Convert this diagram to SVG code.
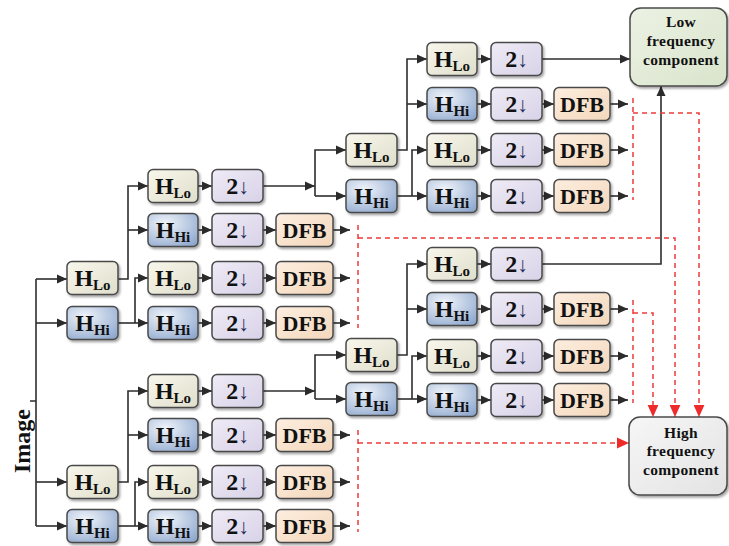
<svg xmlns="http://www.w3.org/2000/svg" width="729" height="546" viewBox="0 0 729 546">
<defs>
<style>
.b{stroke:#4a4a4a;stroke-width:1.5;filter:url(#sh)}
.lo{fill:url(#gLo)}.hi{fill:url(#gHi)}.dn{fill:url(#gDn)}.df{fill:url(#gDf)}
.lf{fill:url(#gLf)}.hf{fill:url(#gHf)}
.t{font-family:'Liberation Serif','DejaVu Serif',serif;font-weight:bold;font-size:24px;fill:#111;text-anchor:middle}
.s{font-size:15px}
.ar{font-size:21px;fill:#1d2d5a}
.dfb{font-size:22px}
.big{font-size:15.5px;letter-spacing:0.3px}
.c{fill:none;stroke:#2e2e2e;stroke-width:1.6}
.d{fill:none;stroke:#ee3b3b;stroke-width:1.5;stroke-dasharray:5 4}
</style>
<filter id="sh" x="-10%" y="-10%" width="130%" height="140%"><feDropShadow dx="1.5" dy="2" stdDeviation="1" flood-color="#000" flood-opacity="0.35"/></filter>
<linearGradient id="gLo" x1="0" y1="0" x2="1" y2="1"><stop offset="0" stop-color="#f8f7ec"/><stop offset="1" stop-color="#e0decb"/></linearGradient>
<radialGradient id="gHi" cx="0.35" cy="0.3" r="0.9"><stop offset="0" stop-color="#f0f4fa"/><stop offset="1" stop-color="#88a3cb"/></radialGradient>
<linearGradient id="gDn" x1="0" y1="0" x2="1" y2="1"><stop offset="0" stop-color="#efebf6"/><stop offset="1" stop-color="#d8d2e7"/></linearGradient>
<linearGradient id="gDf" x1="0" y1="0" x2="1" y2="1"><stop offset="0" stop-color="#fdeee0"/><stop offset="1" stop-color="#f3d7bb"/></linearGradient>
<linearGradient id="gLf" x1="0" y1="0" x2="1" y2="1"><stop offset="0" stop-color="#ecf2e4"/><stop offset="1" stop-color="#d9e4cb"/></linearGradient>
<linearGradient id="gHf" x1="0" y1="0" x2="1" y2="1"><stop offset="0" stop-color="#f6f6f6"/><stop offset="1" stop-color="#e3e3e3"/></linearGradient>
<marker id="ah" viewBox="0 0 10 10" refX="10" refY="5" markerWidth="10" markerHeight="10" markerUnits="userSpaceOnUse" orient="auto"><path d="M0,0.5 L10,5 L0,9.5 z" fill="#2b2b2b"/></marker>
<marker id="ahr" viewBox="0 0 10 10" refX="10" refY="5" markerWidth="12" markerHeight="12" markerUnits="userSpaceOnUse" orient="auto"><path d="M0,0.5 L10,5 L0,9.5 z" fill="#ee2a2a"/></marker>
</defs>
<rect width="729" height="546" fill="#fff"/>

<g id="connectors">
<path class="c" d="M36,279 V526 M30,401 H36"/>
<path class="c" marker-end="url(#ah)" d="M36,279 H67"/>
<path class="c" marker-end="url(#ah)" d="M36,323 H67"/>
<path class="c" marker-end="url(#ah)" d="M36,482 H67"/>
<path class="c" marker-end="url(#ah)" d="M36,526 H67"/>
<path class="c" marker-end="url(#ah)" d="M118,279 H128 V186 H148"/>
<path class="c" marker-end="url(#ah)" d="M128,230 H148"/>
<path class="c" marker-end="url(#ah)" d="M118,323 H148"/>
<path class="c" marker-end="url(#ah)" d="M135,323 V278 H148"/>
<path class="c" marker-end="url(#ah)" d="M118,482 H128 V391 H148"/>
<path class="c" marker-end="url(#ah)" d="M128,435 H148"/>
<path class="c" marker-end="url(#ah)" d="M118,526 H148"/>
<path class="c" marker-end="url(#ah)" d="M135,526 V482 H148"/>
<path class="c" marker-end="url(#ah)" d="M198,186 H212"/>
<path class="c" marker-end="url(#ah)" d="M198,230 H212"/>
<path class="c" marker-end="url(#ah)" d="M198,278 H212"/>
<path class="c" marker-end="url(#ah)" d="M198,323 H212"/>
<path class="c" marker-end="url(#ah)" d="M198,391 H212"/>
<path class="c" marker-end="url(#ah)" d="M198,435 H212"/>
<path class="c" marker-end="url(#ah)" d="M198,482 H212"/>
<path class="c" marker-end="url(#ah)" d="M198,526 H212"/>
<path class="c" marker-end="url(#ah)" d="M263,230 H276"/>
<path class="c" marker-end="url(#ah)" d="M263,278 H276"/>
<path class="c" marker-end="url(#ah)" d="M263,323 H276"/>
<path class="c" marker-end="url(#ah)" d="M263,435 H276"/>
<path class="c" marker-end="url(#ah)" d="M263,482 H276"/>
<path class="c" marker-end="url(#ah)" d="M263,526 H276"/>
<path class="c" marker-end="url(#ah)" d="M333,230 H350"/>
<path class="c" marker-end="url(#ah)" d="M333,278 H350"/>
<path class="c" marker-end="url(#ah)" d="M333,323 H350"/>
<path class="c" marker-end="url(#ah)" d="M333,435 H350"/>
<path class="c" marker-end="url(#ah)" d="M333,482 H350"/>
<path class="c" marker-end="url(#ah)" d="M333,526 H350"/>
<path class="c" marker-end="url(#ah)" d="M263,186 H315"/>
<path class="c" marker-end="url(#ah)" d="M315,196 V150 H346"/>
<path class="c" marker-end="url(#ah)" d="M315,196 H346"/>
<path class="c" marker-end="url(#ah)" d="M263,391 H315"/>
<path class="c" marker-end="url(#ah)" d="M315,399 V355 H346"/>
<path class="c" marker-end="url(#ah)" d="M315,399 H346"/>
<path class="c" marker-end="url(#ah)" d="M397,150 H407 V59 H427"/>
<path class="c" marker-end="url(#ah)" d="M407,104 H427"/>
<path class="c" marker-end="url(#ah)" d="M397,196 H427"/>
<path class="c" marker-end="url(#ah)" d="M412,196 V150 H427"/>
<path class="c" marker-end="url(#ah)" d="M397,355 H407 V264 H427"/>
<path class="c" marker-end="url(#ah)" d="M407,309 H427"/>
<path class="c" marker-end="url(#ah)" d="M397,399 H427"/>
<path class="c" marker-end="url(#ah)" d="M412,399 V356 H427"/>
<path class="c" marker-end="url(#ah)" d="M477,59 H491"/>
<path class="c" marker-end="url(#ah)" d="M477,104 H491"/>
<path class="c" marker-end="url(#ah)" d="M477,150 H491"/>
<path class="c" marker-end="url(#ah)" d="M477,196 H491"/>
<path class="c" marker-end="url(#ah)" d="M477,264 H491"/>
<path class="c" marker-end="url(#ah)" d="M477,309 H491"/>
<path class="c" marker-end="url(#ah)" d="M477,356 H491"/>
<path class="c" marker-end="url(#ah)" d="M477,400 H491"/>
<path class="c" marker-end="url(#ah)" d="M542,104 H554"/>
<path class="c" marker-end="url(#ah)" d="M542,150 H554"/>
<path class="c" marker-end="url(#ah)" d="M542,196 H554"/>
<path class="c" marker-end="url(#ah)" d="M542,309 H554"/>
<path class="c" marker-end="url(#ah)" d="M542,356 H554"/>
<path class="c" marker-end="url(#ah)" d="M542,400 H554"/>
<path class="c" marker-end="url(#ah)" d="M610,104 H628"/>
<path class="c" marker-end="url(#ah)" d="M610,150 H628"/>
<path class="c" marker-end="url(#ah)" d="M610,196 H628"/>
<path class="c" marker-end="url(#ah)" d="M610,309 H628"/>
<path class="c" marker-end="url(#ah)" d="M610,356 H628"/>
<path class="c" marker-end="url(#ah)" d="M610,400 H628"/>
<path class="c" marker-end="url(#ah)" d="M542,59 H630"/>
<path class="c" marker-end="url(#ah)" d="M542,264 H661 V86"/>
<path class="d" d="M633,98 V200"/>
<path class="d" marker-end="url(#ahr)" d="M633,113 H699 V417"/>
<path class="d" d="M358,225 V328"/>
<path class="d" marker-end="url(#ahr)" d="M358,238 H675 V417"/>
<path class="d" d="M633,300 V403"/>
<path class="d" marker-end="url(#ahr)" d="M633,313 H653 V417"/>
<path class="d" d="M358,430 V532"/>
<path class="d" marker-end="url(#ahr)" d="M358,443 H629"/>
</g>

<text class="t" x="30" y="441" font-size="22" transform="rotate(-90 30 441)">Image</text>

<g id="a_lo1"><rect class="b lo" x="67" y="261.5" width="51" height="33" rx="5"/><text class="t" x="92.5" y="285.5">H<tspan class="s" dy="4">Lo</tspan></text></g>
<g id="a_hi1"><rect class="b hi" x="67" y="306.5" width="51" height="33" rx="5"/><text class="t" x="92.5" y="330.5">H<tspan class="s" dy="4">Hi</tspan></text></g>
<g id="a_lo2"><rect class="b lo" x="67" y="465.5" width="51" height="33" rx="5"/><text class="t" x="92.5" y="489.5">H<tspan class="s" dy="4">Lo</tspan></text></g>
<g id="a_hi2"><rect class="b hi" x="67" y="509.5" width="51" height="33" rx="5"/><text class="t" x="92.5" y="533.5">H<tspan class="s" dy="4">Hi</tspan></text></g>

<g id="b1_h"><rect class="b lo" x="148" y="169.5" width="50" height="33" rx="5"/><text class="t" x="173" y="193.5">H<tspan class="s" dy="4">Lo</tspan></text></g>
<g id="b1_d"><rect class="b dn" x="212" y="169.5" width="51" height="33" rx="5"/><text class="t" x="237.5" y="194">2<tspan class="ar">↓</tspan></text></g>
<g id="b2_h"><rect class="b hi" x="148" y="213.5" width="50" height="33" rx="5"/><text class="t" x="173" y="237.5">H<tspan class="s" dy="4">Hi</tspan></text></g>
<g id="b2_d"><rect class="b dn" x="212" y="213.5" width="51" height="33" rx="5"/><text class="t" x="237.5" y="238">2<tspan class="ar">↓</tspan></text></g>
<g id="b2_f"><rect class="b df" x="276" y="213.5" width="57" height="33" rx="5"/><text class="t dfb" x="304.5" y="237.5">DFB</text></g>
<g id="b3_h"><rect class="b lo" x="148" y="261.5" width="50" height="33" rx="5"/><text class="t" x="173" y="285.5">H<tspan class="s" dy="4">Lo</tspan></text></g>
<g id="b3_d"><rect class="b dn" x="212" y="261.5" width="51" height="33" rx="5"/><text class="t" x="237.5" y="286">2<tspan class="ar">↓</tspan></text></g>
<g id="b3_f"><rect class="b df" x="276" y="261.5" width="57" height="33" rx="5"/><text class="t dfb" x="304.5" y="285.5">DFB</text></g>
<g id="b4_h"><rect class="b hi" x="148" y="306.5" width="50" height="33" rx="5"/><text class="t" x="173" y="330.5">H<tspan class="s" dy="4">Hi</tspan></text></g>
<g id="b4_d"><rect class="b dn" x="212" y="306.5" width="51" height="33" rx="5"/><text class="t" x="237.5" y="331">2<tspan class="ar">↓</tspan></text></g>
<g id="b4_f"><rect class="b df" x="276" y="306.5" width="57" height="33" rx="5"/><text class="t dfb" x="304.5" y="330.5">DFB</text></g>
<g id="b5_h"><rect class="b lo" x="148" y="374.5" width="50" height="33" rx="5"/><text class="t" x="173" y="398.5">H<tspan class="s" dy="4">Lo</tspan></text></g>
<g id="b5_d"><rect class="b dn" x="212" y="374.5" width="51" height="33" rx="5"/><text class="t" x="237.5" y="399">2<tspan class="ar">↓</tspan></text></g>
<g id="b6_h"><rect class="b hi" x="148" y="418.5" width="50" height="33" rx="5"/><text class="t" x="173" y="442.5">H<tspan class="s" dy="4">Hi</tspan></text></g>
<g id="b6_d"><rect class="b dn" x="212" y="418.5" width="51" height="33" rx="5"/><text class="t" x="237.5" y="443">2<tspan class="ar">↓</tspan></text></g>
<g id="b6_f"><rect class="b df" x="276" y="418.5" width="57" height="33" rx="5"/><text class="t dfb" x="304.5" y="442.5">DFB</text></g>
<g id="b7_h"><rect class="b lo" x="148" y="465.5" width="50" height="33" rx="5"/><text class="t" x="173" y="489.5">H<tspan class="s" dy="4">Lo</tspan></text></g>
<g id="b7_d"><rect class="b dn" x="212" y="465.5" width="51" height="33" rx="5"/><text class="t" x="237.5" y="490">2<tspan class="ar">↓</tspan></text></g>
<g id="b7_f"><rect class="b df" x="276" y="465.5" width="57" height="33" rx="5"/><text class="t dfb" x="304.5" y="489.5">DFB</text></g>
<g id="b8_h"><rect class="b hi" x="148" y="509.5" width="50" height="33" rx="5"/><text class="t" x="173" y="533.5">H<tspan class="s" dy="4">Hi</tspan></text></g>
<g id="b8_d"><rect class="b dn" x="212" y="509.5" width="51" height="33" rx="5"/><text class="t" x="237.5" y="534">2<tspan class="ar">↓</tspan></text></g>
<g id="b8_f"><rect class="b df" x="276" y="509.5" width="57" height="33" rx="5"/><text class="t dfb" x="304.5" y="533.5">DFB</text></g>

<g id="c_lo1"><rect class="b lo" x="346" y="133.5" width="51" height="33" rx="5"/><text class="t" x="371.5" y="157.5">H<tspan class="s" dy="4">Lo</tspan></text></g>
<g id="c_hi1"><rect class="b hi" x="346" y="179.5" width="51" height="33" rx="5"/><text class="t" x="371.5" y="203.5">H<tspan class="s" dy="4">Hi</tspan></text></g>
<g id="c_lo2"><rect class="b lo" x="346" y="338.5" width="51" height="33" rx="5"/><text class="t" x="371.5" y="362.5">H<tspan class="s" dy="4">Lo</tspan></text></g>
<g id="c_hi2"><rect class="b hi" x="346" y="382.5" width="51" height="33" rx="5"/><text class="t" x="371.5" y="406.5">H<tspan class="s" dy="4">Hi</tspan></text></g>

<g id="d1_h"><rect class="b lo" x="427" y="42.5" width="50" height="33" rx="5"/><text class="t" x="452" y="66.5">H<tspan class="s" dy="4">Lo</tspan></text></g>
<g id="d1_d"><rect class="b dn" x="491" y="42.5" width="51" height="33" rx="5"/><text class="t" x="516.5" y="67">2<tspan class="ar">↓</tspan></text></g>
<g id="d2_h"><rect class="b hi" x="427" y="87.5" width="50" height="33" rx="5"/><text class="t" x="452" y="111.5">H<tspan class="s" dy="4">Hi</tspan></text></g>
<g id="d2_d"><rect class="b dn" x="491" y="87.5" width="51" height="33" rx="5"/><text class="t" x="516.5" y="112">2<tspan class="ar">↓</tspan></text></g>
<g id="d2_f"><rect class="b df" x="554" y="87.5" width="56" height="33" rx="5"/><text class="t dfb" x="582" y="111.5">DFB</text></g>
<g id="d3_h"><rect class="b lo" x="427" y="133.5" width="50" height="33" rx="5"/><text class="t" x="452" y="157.5">H<tspan class="s" dy="4">Lo</tspan></text></g>
<g id="d3_d"><rect class="b dn" x="491" y="133.5" width="51" height="33" rx="5"/><text class="t" x="516.5" y="158">2<tspan class="ar">↓</tspan></text></g>
<g id="d3_f"><rect class="b df" x="554" y="133.5" width="56" height="33" rx="5"/><text class="t dfb" x="582" y="157.5">DFB</text></g>
<g id="d4_h"><rect class="b hi" x="427" y="179.5" width="50" height="33" rx="5"/><text class="t" x="452" y="203.5">H<tspan class="s" dy="4">Hi</tspan></text></g>
<g id="d4_d"><rect class="b dn" x="491" y="179.5" width="51" height="33" rx="5"/><text class="t" x="516.5" y="204">2<tspan class="ar">↓</tspan></text></g>
<g id="d4_f"><rect class="b df" x="554" y="179.5" width="56" height="33" rx="5"/><text class="t dfb" x="582" y="203.5">DFB</text></g>
<g id="d5_h"><rect class="b lo" x="427" y="247.5" width="50" height="33" rx="5"/><text class="t" x="452" y="271.5">H<tspan class="s" dy="4">Lo</tspan></text></g>
<g id="d5_d"><rect class="b dn" x="491" y="247.5" width="51" height="33" rx="5"/><text class="t" x="516.5" y="272">2<tspan class="ar">↓</tspan></text></g>
<g id="d6_h"><rect class="b hi" x="427" y="292.5" width="50" height="33" rx="5"/><text class="t" x="452" y="316.5">H<tspan class="s" dy="4">Hi</tspan></text></g>
<g id="d6_d"><rect class="b dn" x="491" y="292.5" width="51" height="33" rx="5"/><text class="t" x="516.5" y="317">2<tspan class="ar">↓</tspan></text></g>
<g id="d6_f"><rect class="b df" x="554" y="292.5" width="56" height="33" rx="5"/><text class="t dfb" x="582" y="316.5">DFB</text></g>
<g id="d7_h"><rect class="b lo" x="427" y="339.5" width="50" height="33" rx="5"/><text class="t" x="452" y="363.5">H<tspan class="s" dy="4">Lo</tspan></text></g>
<g id="d7_d"><rect class="b dn" x="491" y="339.5" width="51" height="33" rx="5"/><text class="t" x="516.5" y="364">2<tspan class="ar">↓</tspan></text></g>
<g id="d7_f"><rect class="b df" x="554" y="339.5" width="56" height="33" rx="5"/><text class="t dfb" x="582" y="363.5">DFB</text></g>
<g id="d8_h"><rect class="b hi" x="427" y="383.5" width="50" height="33" rx="5"/><text class="t" x="452" y="407.5">H<tspan class="s" dy="4">Hi</tspan></text></g>
<g id="d8_d"><rect class="b dn" x="491" y="383.5" width="51" height="33" rx="5"/><text class="t" x="516.5" y="408">2<tspan class="ar">↓</tspan></text></g>
<g id="d8_f"><rect class="b df" x="554" y="383.5" width="56" height="33" rx="5"/><text class="t dfb" x="582" y="407.5">DFB</text></g>

<g id="low_freq"><rect class="b lf" x="630" y="8" width="97" height="78" rx="11"/>
<text class="t big" x="681" y="27">Low</text><text class="t big" x="681" y="46">frequency</text><text class="t big" x="681" y="65">component</text></g>
<g id="high_freq"><rect class="b hf" x="629" y="417" width="98" height="78" rx="11"/>
<text class="t big" x="681" y="438">High</text><text class="t big" x="681" y="456">frequency</text><text class="t big" x="681" y="475">component</text></g>
</svg>
